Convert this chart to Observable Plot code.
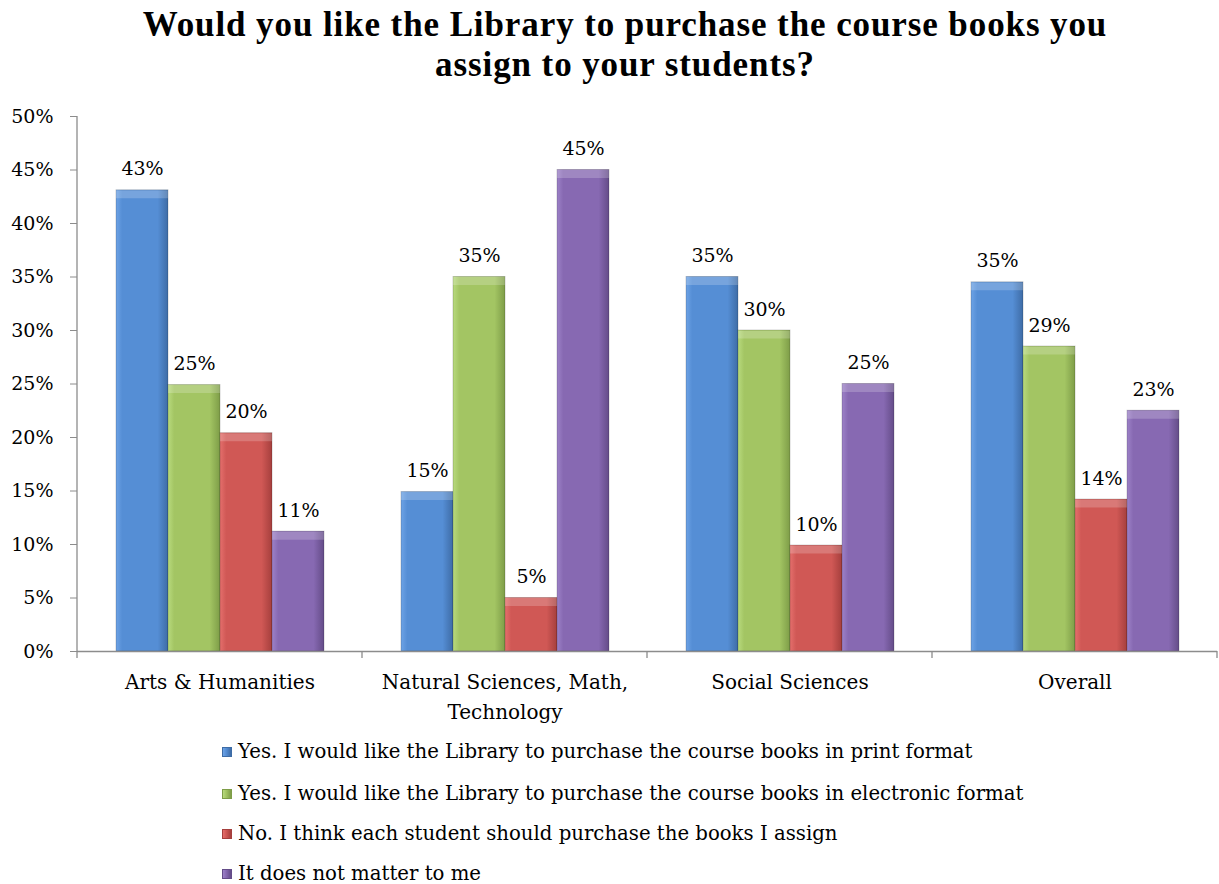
<!DOCTYPE html>
<html><head><meta charset="utf-8">
<script src="https://cdn.jsdelivr.net/npm/d3@7"></script>
<script src="https://cdn.jsdelivr.net/npm/@observablehq/plot@0.6"></script>
<style>
body{margin:0;background:#fff;font-family:"DejaVu Serif",serif;color:#000;}
#title{width:1219px;height:100px;box-sizing:border-box;padding-top:5px;padding-left:31px;text-align:center;font-family:"Liberation Serif",serif;font-weight:bold;font-size:35px;letter-spacing:0.9px;line-height:40px;}
#chart{height:631px;}
#legend{position:relative;height:153px;width:1219px;}
.item{position:absolute;left:222px;font-size:19.7px;line-height:24px;display:flex;align-items:center;white-space:nowrap;}
.sw{width:10px;height:10px;margin-right:6px;box-sizing:border-box;}
</style>
</head><body>
<div id="title">Would you like the Library to purchase the course books you<br>assign to your students?</div>
<div id="chart"></div>
<div id="legend"></div>
<script>
const categories = ["Arts & Humanities", "Natural Sciences, Math, Technology", "Social Sciences", "Overall"];
const categoryLabels = ["Arts & Humanities", "Natural Sciences, Math,\nTechnology", "Social Sciences", "Overall"];
const series = [
  "Yes. I would like the Library to purchase the course books in print format",
  "Yes. I would like the Library to purchase the course books in electronic format",
  "No. I think each student should purchase the books I assign",
  "It does not matter to me"
];
const printFormat = [43.1, 14.9, 35.0, 34.5];
const electronicFormat = [24.9, 35.0, 30.0, 28.5];
const studentPurchase = [20.4, 5.0, 9.9, 14.2];
const noMatter = [11.2, 45.0, 25.0, 22.5];
const yTicks = [0, 5, 10, 15, 20, 25, 30, 35, 40, 45, 50];

const seriesValues = [printFormat, electronicFormat, studentPurchase, noMatter];
const baseColors = ["#558ED5", "#A3C563", "#D05855", "#8769B2"];
const lightColors = ["#6DA3E6", "#B8DA7E", "#E46F6C", "#9D82C8"];
const darkColors = ["#3E6CA6", "#7E9D48", "#A53F3D", "#644C88"];
const gradIds = series.map((_, i) => `url(#g${i})`);

const table = [];
categories.forEach((c, ci) => series.forEach((s, si) => table.push({category: c, series: s, value: seriesValues[si][ci]})));

const font = '"DejaVu Serif", serif';
const plot = Plot.plot({
  width: 1219, height: 631,
  marginTop: 16, marginLeft: 77, marginRight: 2, marginBottom: 80,
  style: {fontFamily: font, fontSize: "19px", color: "#000", background: "#fff", overflow: "visible"},
  fx: {domain: categories, padding: 0, label: null},
  x: {domain: series, paddingInner: 0, paddingOuter: 0.74, axis: null},
  y: {domain: [0, 50], label: null},
  color: {type: "ordinal", domain: series, range: gradIds},
  marks: [
    Plot.barY(table, {fx: "category", x: "series", y: "value", fill: "series", stroke: "rgba(0,0,0,0.18)", strokeWidth: 1}),
    Plot.tickY(table, {fx: "category", x: "series", y: "value", stroke: "white", strokeOpacity: 0.2, strokeWidth: 8, dy: 4}),
    Plot.ruleY([0], {stroke: "#8c8c8c", strokeWidth: 1.3}),
    Plot.text(table, {fx: "category", x: "series", y: "value", text: d => Math.round(d.value) + "%", lineAnchor: "bottom", dy: -15, fontSize: 19, fill: "#000"}),
    Plot.axisY({ticks: yTicks, tickSize: 7, tickPadding: 17, tickFormat: d => d + "%", stroke: "#8c8c8c", fill: "#000", fontSize: 19, label: null}),
    Plot.axisFx({anchor: "bottom", tickSize: 0, tickPadding: 16, fontSize: 20, lineHeight: 1.5, tickFormat: d => categoryLabels[categories.indexOf(d)], label: null})
  ]
});

const svg = d3.select(plot);
const defs = svg.insert("defs", ":first-child");
series.forEach((s, i) => {
  const g = defs.append("linearGradient").attr("id", `g${i}`).attr("x1", "0").attr("x2", "1").attr("y1", "0").attr("y2", "0");
  g.append("stop").attr("offset", "0").attr("stop-color", lightColors[i]);
  g.append("stop").attr("offset", "0.12").attr("stop-color", baseColors[i]);
  g.append("stop").attr("offset", "0.8").attr("stop-color", baseColors[i]);
  g.append("stop").attr("offset", "1").attr("stop-color", darkColors[i]);
});

// axis line and category boundary ticks, positioned with Plot's own scales
const fx = plot.scale("fx"), y = plot.scale("y");
const bw = fx.bandwidth;
const y0 = y.apply(0), yTop = y.apply(50);
const xLeft = fx.apply(categories[0]);
const axisG = svg.append("g").attr("stroke", "#8c8c8c").attr("stroke-width", 1.3);
axisG.append("line").attr("x1", xLeft).attr("x2", xLeft).attr("y1", yTop).attr("y2", y0 + 7);
categories.forEach(c => {
  const xr = fx.apply(c) + bw;
  axisG.append("line").attr("x1", xr).attr("x2", xr).attr("y1", y0).attr("y2", y0 + 7);
});

document.getElementById("chart").appendChild(plot);

const legend = document.getElementById("legend");
const legendTops = [9, 51, 91, 131];
series.forEach((s, i) => {
  const item = document.createElement("div");
  item.className = "item";
  item.style.top = legendTops[i] + "px";
  const sw = document.createElement("span");
  sw.className = "sw";
  sw.style.background = `linear-gradient(to right, ${lightColors[i]}, ${baseColors[i]} 40%, ${darkColors[i]})`;
  sw.style.border = "1px solid " + darkColors[i];
  const t = document.createElement("span");
  t.textContent = s;
  item.appendChild(sw); item.appendChild(t);
  legend.appendChild(item);
});
</script>
</body></html>
